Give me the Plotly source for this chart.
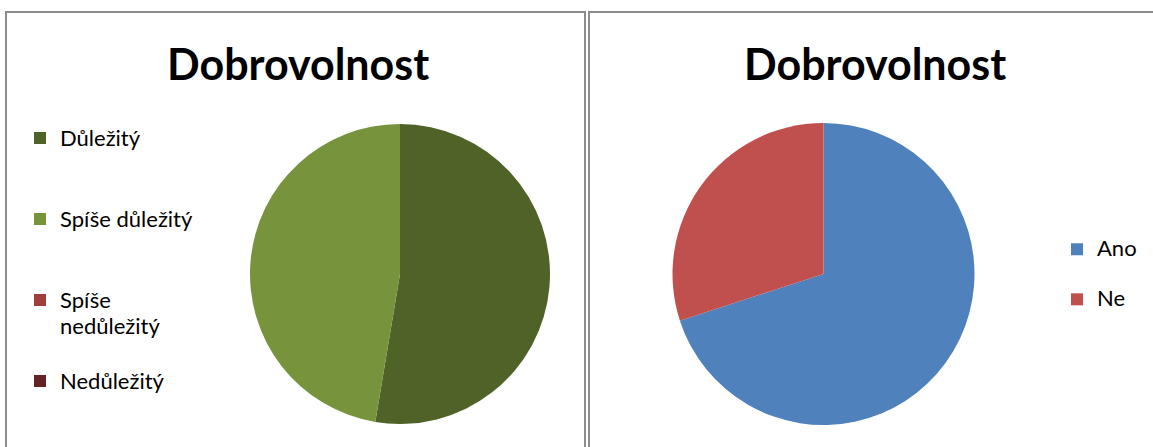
import plotly.graph_objects as go

# ---------------- data ----------------
title_left = "Dobrovolnost"
labels_left = ["Důležitý", "Spíše důležitý", "Spíše nedůležitý", "Nedůležitý"]
values_left = [10, 9, 0, 0]
colors_left = ["#4F6228", "#77933C", "#A13D3B", "#632523"]

title_right = "Dobrovolnost"
labels_right = ["Ano", "Ne"]
values_right = [70, 30]
colors_right = ["#4F81BD", "#C0504D"]

# ---------------- layout helpers ----------------
W, H = 1153, 447
FONT = "Lato, 'Open Sans', sans-serif"
NBSP = "\u00a0"


def px(x):
    return x / W


def py(y):
    return 1 - y / H


def span(t, size):
    return f'<span style="font-size:{size}px">{t}</span>'


def legend_text(label, wrap_at, total_lines, size):
    # Excel-style legend entry: optional wrap, padded to equal height
    lines = [label]
    if wrap_at and len(label) > wrap_at and " " in label:
        lines = label.split(" ", 1)
    while len(lines) < total_lines:
        lines.append(NBSP)
    return "<br>".join(span(l, size) for l in lines)


leg_left = [legend_text(l, 14, 3, 22) for l in labels_left]
leg_right = [legend_text(l, 0, 2, 22) for l in labels_right]


def pie_domain(cx, cy, r):
    return dict(x=[px(cx - r), px(cx + r)], y=[py(cy + r), py(cy - r)])


fig = go.Figure()

fig.add_trace(go.Pie(
    labels=leg_left, values=values_left,
    marker=dict(colors=colors_left, line=dict(width=0)),
    sort=False, direction="clockwise", rotation=0,
    textinfo="none", hoverinfo="label+value+percent",
    domain=pie_domain(400, 274, 150),
    legend="legend", showlegend=True,
))

fig.add_trace(go.Pie(
    labels=leg_right, values=values_right,
    marker=dict(colors=colors_right, line=dict(width=0)),
    sort=False, direction="clockwise", rotation=0,
    textinfo="none", hoverinfo="label+value+percent",
    domain=pie_domain(823.5, 274, 151),
    legend="legend2", showlegend=True,
))

border = dict(color="#8C8C8C", width=2)
fig.update_layout(
    width=W, height=H,
    margin=dict(l=0, r=0, t=0, b=0, autoexpand=False),
    paper_bgcolor="white", plot_bgcolor="white",
    font=dict(family=FONT, color="#000000"),
    legend=dict(
        x=px(20), y=py(118.5), xanchor="left", yanchor="top",
        font=dict(size=20, family=FONT, color="#000000"),
        valign="top", itemwidth=30, bgcolor="rgba(0,0,0,0)",
        traceorder="normal",
    ),
    legend2=dict(
        x=px(1057), y=py(231), xanchor="left", yanchor="top",
        font=dict(size=18.1, family=FONT, color="#000000"),
        valign="top", itemwidth=30, bgcolor="rgba(0,0,0,0)",
        traceorder="normal",
    ),
    annotations=[
        dict(text=f"<b>{title_left}</b>", x=px(297.5), y=py(63),
             xref="paper", yref="paper", showarrow=False,
             xanchor="center", yanchor="middle",
             font=dict(size=43, family=FONT, color="#000000")),
        dict(text=f"<b>{title_right}</b>", x=px(875), y=py(63),
             xref="paper", yref="paper", showarrow=False,
             xanchor="center", yanchor="middle",
             font=dict(size=43, family=FONT, color="#000000")),
    ],
    shapes=[
        dict(type="rect", xref="paper", yref="paper",
             x0=px(6), x1=px(585), y0=py(470), y1=py(12),
             line=border, fillcolor="rgba(0,0,0,0)", layer="above"),
        dict(type="rect", xref="paper", yref="paper",
             x0=px(589), x1=px(1175), y0=py(470), y1=py(12),
             line=border, fillcolor="rgba(0,0,0,0)", layer="above"),
    ],
)

# remove the default 8px page margin so the figure fills the window exactly
fig.write_html(
    "out.html",
    config={"displayModeBar": False},
    post_script="document.body.style.margin='0';document.body.style.overflow='hidden';",
)
